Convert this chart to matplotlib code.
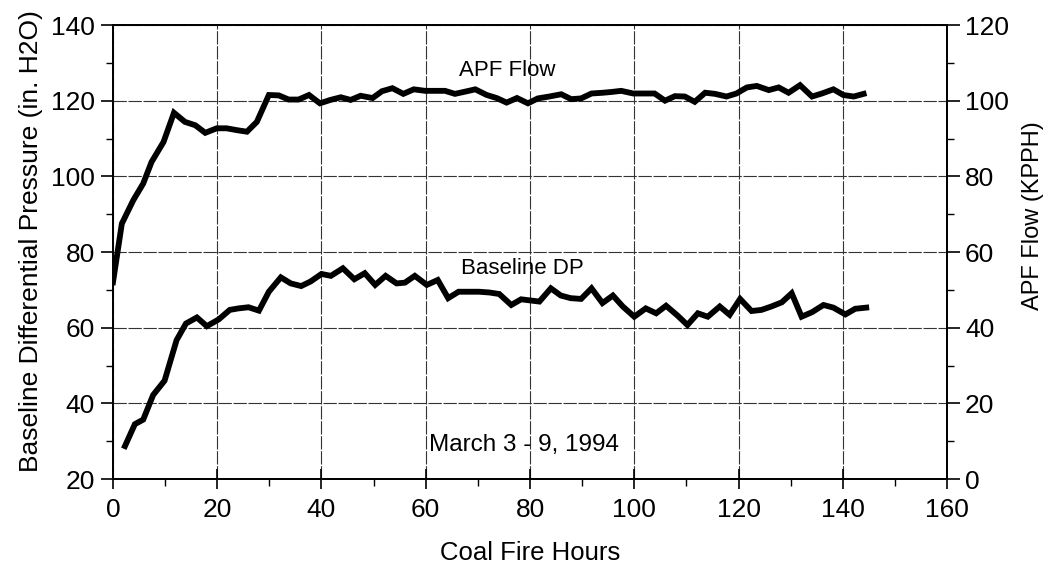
import matplotlib.pyplot as plt
from matplotlib.ticker import MultipleLocator

plt.rcParams['font.family'] = ['Liberation Sans', 'DejaVu Sans']

# APF flow (right axis, KPPH)
apf_hours = [0, 1.7, 3.9, 5.8, 7.4, 9.7, 11.7, 13.8, 15.8, 17.7, 19.9, 21.8, 23.8,
             25.7, 27.6, 29.9, 31.8, 33.7, 35.6, 37.6, 39.7, 41.7, 43.7, 45.6, 47.5,
             49.8, 51.6, 53.6, 55.7, 57.7, 59.9, 61.8, 63.7, 65.6, 67.6, 69.5, 71.7,
             73.6, 75.5, 77.5, 79.6, 81.5, 83.7, 86.0, 87.9, 89.8, 91.8, 94.0, 95.6,
             97.5, 99.8, 101.7, 103.9, 105.9, 107.8, 109.7, 111.6, 113.6, 115.5,
             117.7, 119.6, 121.6, 123.5, 125.8, 127.7, 129.6, 131.8, 134.1, 136.0,
             138.2, 140.1, 142.1, 144.0]
apf_flow = [52.0, 67.5, 73.7, 78.1, 83.8, 89.1, 96.8, 94.4, 93.5, 91.5, 92.7, 92.7,
            92.2, 91.8, 94.4, 101.5, 101.4, 100.3, 100.3, 101.5, 99.3, 100.2, 100.9,
            100.2, 101.3, 100.7, 102.5, 103.3, 101.8, 103.0, 102.6, 102.6, 102.6,
            101.8, 102.4, 103.0, 101.5, 100.7, 99.5, 100.7, 99.3, 100.6, 101.1,
            101.7, 100.4, 100.6, 101.9, 102.1, 102.3, 102.6, 101.9, 101.9, 101.9,
            100.0, 101.2, 101.1, 99.7, 102.1, 101.8, 101.1, 101.9, 103.5, 103.9,
            102.8, 103.5, 102.1, 104.1, 101.1, 101.9, 103.0, 101.5, 101.1, 101.8]

# Baseline differential pressure (left axis, in. H2O)
dp_hours = [2.3, 4.2, 5.8, 7.7, 9.9, 12.2, 14.0, 16.1, 18.0, 20.3, 22.4, 24.1, 26.0,
            28.0, 29.9, 32.2, 34.1, 36.1, 37.9, 40.0, 41.8, 44.1, 46.3, 48.3, 50.3,
            52.3, 54.4, 56.0, 57.9, 60.2, 62.3, 64.3, 66.3, 68.3, 70.2, 72.2, 74.1,
            76.4, 78.3, 81.8, 84.0, 85.9, 87.8, 89.8, 91.8, 93.9, 95.9, 97.8, 100.0,
            102.2, 104.2, 106.1, 108.3, 110.2, 112.2, 114.1, 116.4, 118.3, 120.3,
            122.5, 124.4, 126.3, 128.3, 130.2, 132.1, 134.1, 136.3, 138.2, 140.5,
            142.4, 144.5]
dp_values = [28.7, 34.5, 35.7, 42.2, 46.0, 56.7, 61.1, 62.7, 60.4, 62.2, 64.7, 65.1,
             65.4, 64.5, 69.5, 73.3, 71.7, 71.0, 72.2, 74.2, 73.7, 75.7, 72.8, 74.4,
             71.3, 73.7, 71.7, 71.9, 73.7, 71.3, 72.6, 67.8, 69.5, 69.5, 69.5, 69.3,
             68.9, 66.0, 67.5, 66.9, 70.4, 68.5, 67.8, 67.6, 70.4, 66.5, 68.5, 65.6,
             62.9, 65.1, 63.8, 65.8, 63.2, 60.7, 63.8, 62.9, 65.6, 63.4, 67.6, 64.4,
             64.7, 65.6, 66.7, 69.1, 62.9, 64.1, 66.0, 65.3, 63.5, 65.0, 65.3]

fig = plt.figure(figsize=(10.49, 5.66), dpi=100)
ax = fig.add_axes([0.1077, 0.1537, 0.7951, 0.8021])
ax2 = ax.twinx()

ax.plot(dp_hours, dp_values, color='black', lw=4.2, solid_joinstyle='miter')
ax2.plot(apf_hours, apf_flow, color='black', lw=4.2, solid_joinstyle='miter')

ax.set_xlim(0, 160)
ax.set_ylim(20, 140)
ax2.set_ylim(0, 120)

ax.xaxis.set_major_locator(MultipleLocator(20))
ax.xaxis.set_minor_locator(MultipleLocator(10))
ax.yaxis.set_major_locator(MultipleLocator(20))
ax.yaxis.set_minor_locator(MultipleLocator(10))
ax2.yaxis.set_major_locator(MultipleLocator(20))
ax2.yaxis.set_minor_locator(MultipleLocator(10))

ax.grid(True, which='major', color='0.2', lw=0.8, ls=(0, (12, 1.5)))

ax.tick_params(axis='x', which='major', direction='inout', length=14, width=1.2,
               labelsize=19, pad=7)
ax.tick_params(axis='x', which='minor', direction='out', length=5, width=1)
ax.tick_params(axis='y', which='major', direction='out', length=9, width=1.2,
               labelsize=19, pad=4)
ax.tick_params(axis='y', which='minor', direction='out', length=5, width=1)
ax2.tick_params(axis='y', which='major', direction='out', length=9, width=1.2,
                labelsize=19, pad=4)
ax2.tick_params(axis='y', which='minor', direction='out', length=5, width=1)

for a in (ax, ax2):
    for s in a.spines.values():
        s.set_linewidth(1.3)

ax.set_xlabel('Coal Fire Hours', fontsize=18.5)
ax.xaxis.set_label_coords(0.5, -0.137)
ax.set_ylabel('Baseline Differential Pressure (in. H2O)', fontsize=19)
ax.yaxis.set_label_coords(-0.084, 0.525)
ax2.set_ylabel('APF Flow (KPPH)', fontsize=17)
ax2.yaxis.set_label_coords(1.090, 0.581)

ax.text(66.3, 128.1, 'APF Flow', fontsize=16, va='center', ha='left')
ax.text(66.7, 75.7, 'Baseline DP', fontsize=16, va='center', ha='left')
ax.text(60.6, 28.9, 'March 3 - 9, 1994', fontsize=17.5, va='center', ha='left')

fig.savefig('out.png', dpi=100)
